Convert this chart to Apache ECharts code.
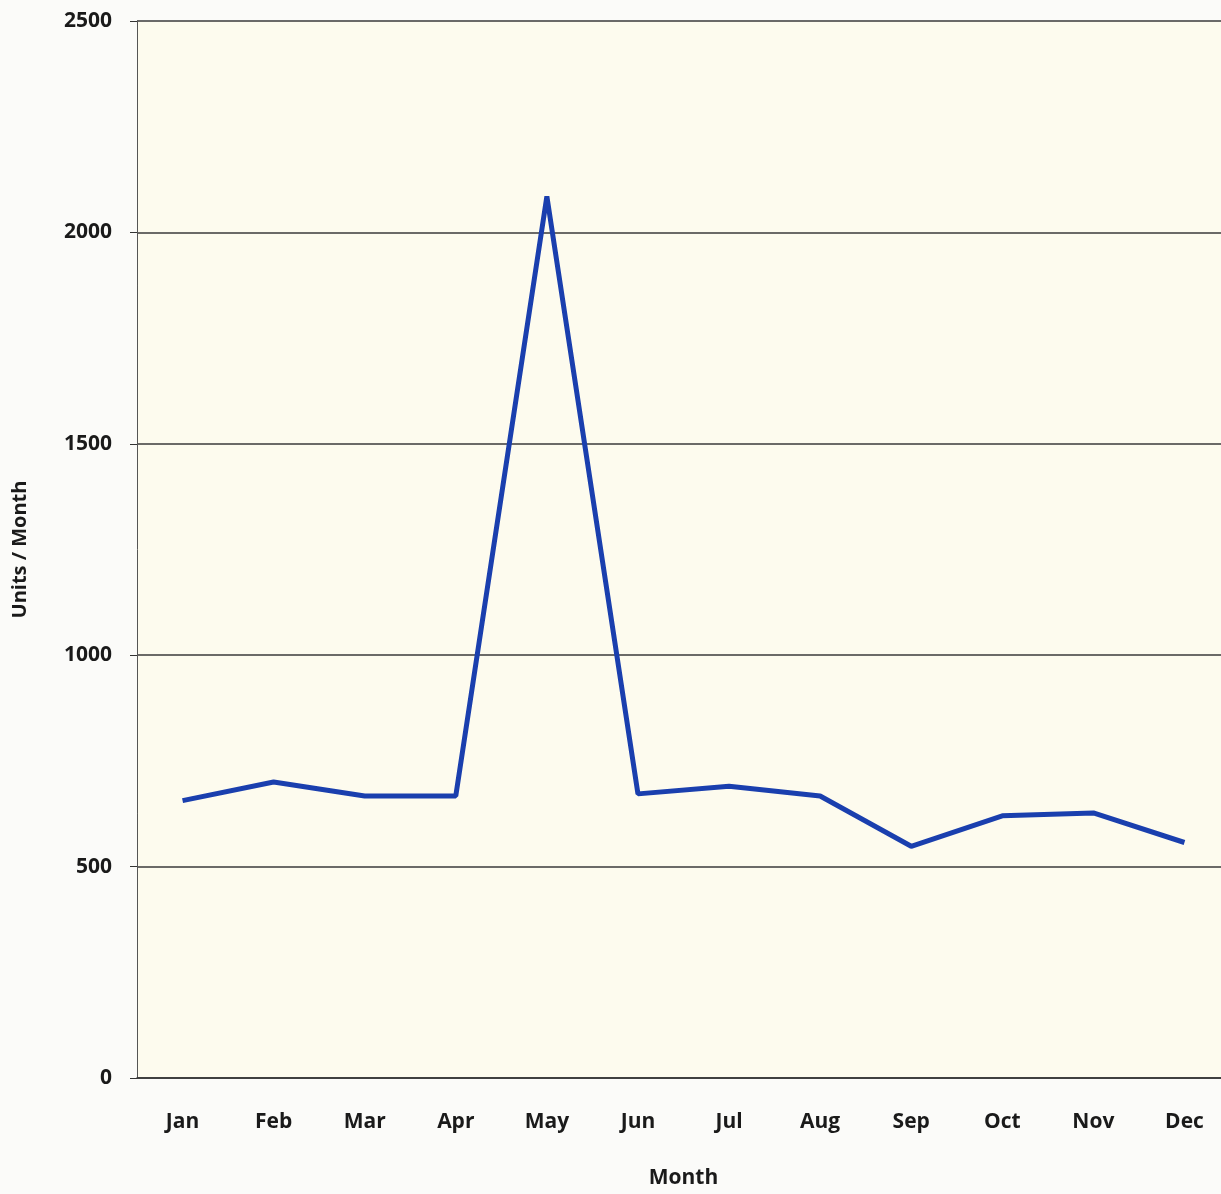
<!DOCTYPE html>
<html><head><meta charset="utf-8">
<script src="https://cdn.jsdelivr.net/npm/echarts@6/dist/echarts.min.js"></script>
<style>html,body{margin:0;padding:0;background:#fbfbf9;overflow:hidden;width:1221px;height:1194px;}#c{width:1230px;height:1194px;}</style>
</head><body><div id="c"></div>
<script>
const months = ['Jan','Feb','Mar','Apr','May','Jun','Jul','Aug','Sep','Oct','Nov','Dec'];
const units = [656, 700, 667, 667, 2085, 672, 690, 667, 548, 620, 627, 557];
const yTicks = [0, 500, 1000, 1500, 2000, 2500];

const chart = echarts.init(document.getElementById('c'));
const font = '"Open Sans", Lato, sans-serif';
chart.setOption({
  backgroundColor: '#fbfbf9',
  animation: false,
  grid: { left: 137, right: 0, top: 21, bottom: 110, show: true, backgroundColor: '#fdfbee', borderWidth: 0 },
  xAxis: {
    type: 'category', data: months, boundaryGap: true,
    name: 'Month', nameLocation: 'middle', nameGap: 90,
    nameTextStyle: { fontFamily: font, fontWeight: 'bold', fontSize: 21, color: '#1a1a1a' },
    axisLine: { lineStyle: { color: '#333', width: 1.5 } },
    axisTick: { show: false },
    axisLabel: { fontFamily: font, fontWeight: 'bold', fontSize: 21, color: '#1a1a1a', margin: 34 }
  },
  yAxis: {
    type: 'value', min: yTicks[0], max: yTicks[yTicks.length-1], interval: 500,
    name: 'Units / Month', nameLocation: 'middle', nameGap: 107, nameRotate: 90,
    nameTextStyle: { fontFamily: font, fontWeight: 'bold', fontSize: 20, color: '#1a1a1a' },
    axisLine: { show: true, lineStyle: { color: '#555', width: 1 } },
    axisTick: { show: true, length: 7, lineStyle: { color: '#333' } },
    axisLabel: { fontFamily: font, fontWeight: 'bold', fontSize: 21, color: '#1a1a1a', margin: 25,
      formatter: v => String(v) },
    splitLine: { lineStyle: { color: '#3a3a3a', width: 1.5 } }
  },
  series: [{
    type: 'line', data: units, symbol: 'none',
    lineStyle: { color: '#1a3fae', width: 5 }
  }]
});
</script></body></html>
